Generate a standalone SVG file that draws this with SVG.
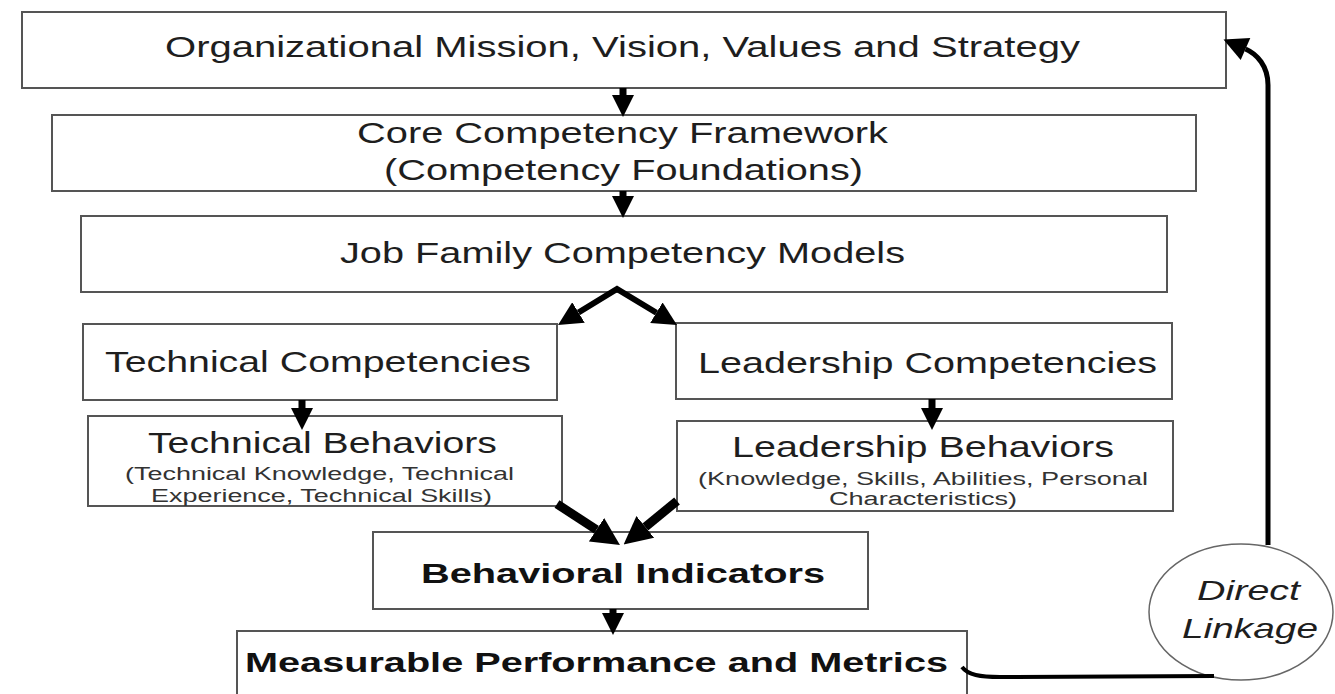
<svg xmlns="http://www.w3.org/2000/svg" width="1335" height="694" viewBox="0 0 1335 694">
<style>
.box{fill:#fff;stroke:#555;stroke-width:2}
.t{font-family:"Liberation Sans",Arial,sans-serif;font-size:30px;fill:#1e1e1e}
.s{font-family:"Liberation Sans",Arial,sans-serif;font-size:18px;fill:#333}
.b{font-family:"Liberation Sans",Arial,sans-serif;font-size:28px;font-weight:bold;fill:#111}
.i{font-family:"Liberation Sans",Arial,sans-serif;font-size:28px;font-style:italic;fill:#1e1e1e}
.c{fill:none;stroke:#000;stroke-linecap:butt;stroke-linejoin:miter}
</style>
<defs>
<marker id="av" viewBox="0 0 10 10" refX="0" refY="5" markerUnits="userSpaceOnUse" markerWidth="22" markerHeight="26" orient="auto-start-reverse"><path d="M0,0 L10,5 L0,10 z" fill="#000"/></marker>
<marker id="ad" viewBox="0 0 10 10" refX="0" refY="5" markerUnits="userSpaceOnUse" markerWidth="24" markerHeight="24" orient="auto-start-reverse"><path d="M0,0 L10,5 L0,10 z" fill="#000"/></marker>
<marker id="ab" viewBox="0 0 10 10" refX="0" refY="5" markerUnits="userSpaceOnUse" markerWidth="28" markerHeight="30" orient="auto-start-reverse"><path d="M0,0 L10,5 L0,10 z" fill="#000"/></marker>
<marker id="af" viewBox="0 0 10 10" refX="0" refY="5" markerUnits="userSpaceOnUse" markerWidth="26" markerHeight="24" orient="auto"><path d="M0,0 L10,5 L0,10 z" fill="#000"/></marker>
</defs>
<rect width="1335" height="694" fill="#fff"/>

<g id="n-mission">
<rect class="box" x="22" y="12" width="1204" height="76"/>
<text class="t" x="165" y="57" textLength="915" lengthAdjust="spacingAndGlyphs">Organizational Mission, Vision, Values and Strategy</text>
</g>
<g id="n-core">
<rect class="box" x="52" y="115" width="1144" height="76"/>
<text class="t" x="357" y="143" textLength="531" lengthAdjust="spacingAndGlyphs">Core Competency Framework</text>
<text class="t" x="384" y="180" textLength="479" lengthAdjust="spacingAndGlyphs">(Competency Foundations)</text>
</g>
<g id="n-jobfamily">
<rect class="box" x="81" y="216" width="1086" height="76"/>
<text class="t" x="340" y="263" textLength="565" lengthAdjust="spacingAndGlyphs">Job Family Competency Models</text>
</g>
<g id="n-techcomp">
<rect class="box" x="83" y="324" width="474" height="76"/>
<text class="t" x="105" y="372" textLength="426" lengthAdjust="spacingAndGlyphs">Technical Competencies</text>
</g>
<g id="n-techbeh">
<rect class="box" x="88" y="416" width="474" height="90"/>
<text class="t" x="148" y="453" textLength="349" lengthAdjust="spacingAndGlyphs">Technical Behaviors</text>
<text class="s" x="125" y="480" textLength="389" lengthAdjust="spacingAndGlyphs">(Technical Knowledge, Technical</text>
<text class="s" x="151" y="502" textLength="341" lengthAdjust="spacingAndGlyphs">Experience, Technical Skills)</text>
</g>
<g id="n-leadcomp">
<rect class="box" x="676" y="323" width="496" height="76"/>
<text class="t" x="698" y="373" textLength="459" lengthAdjust="spacingAndGlyphs">Leadership Competencies</text>
</g>
<g id="n-leadbeh">
<rect class="box" x="677" y="421" width="496" height="90"/>
<text class="t" x="732" y="457" textLength="382" lengthAdjust="spacingAndGlyphs">Leadership Behaviors</text>
<text class="s" x="698" y="485" textLength="450" lengthAdjust="spacingAndGlyphs">(Knowledge, Skills, Abilities, Personal</text>
<text class="s" x="829" y="505" textLength="188" lengthAdjust="spacingAndGlyphs">Characteristics)</text>
</g>
<g id="n-indicators">
<rect class="box" x="373" y="532" width="495" height="77"/>
<text class="b" x="421" y="583" textLength="404" lengthAdjust="spacingAndGlyphs">Behavioral Indicators</text>
</g>
<g id="n-metrics">
<rect class="box" x="237" y="631" width="730" height="75"/>
<text class="b" x="245" y="672" textLength="703" lengthAdjust="spacingAndGlyphs">Measurable Performance and Metrics</text>
</g>
<g id="n-linkage">
<ellipse cx="1241" cy="612" rx="92" ry="68" fill="#fff" stroke="#666" stroke-width="1.5"/>
<text class="i" x="1197" y="600" textLength="103" lengthAdjust="spacingAndGlyphs">Direct</text>
<text class="i" x="1182" y="638" textLength="136" lengthAdjust="spacingAndGlyphs">Linkage</text>
</g>

<g id="connectors">
<path class="c" d="M623,88 L623,95" stroke-width="7" marker-end="url(#av)"/>
<path class="c" d="M623,191 L623,196" stroke-width="7" marker-end="url(#av)"/>
<path class="c" d="M578.5,312.5 L617,289 L656.4,312.7" stroke-width="6" marker-start="url(#ad)" marker-end="url(#ad)"/>
<path class="c" d="M302,400 L302,408" stroke-width="7" marker-end="url(#av)"/>
<path class="c" d="M932,399 L932,408" stroke-width="7" marker-end="url(#av)"/>
<path class="c" d="M557,504 L596.5,529.8" stroke-width="9" marker-end="url(#ab)"/>
<path class="c" d="M677,501 L645.3,526.9" stroke-width="9" marker-end="url(#ab)"/>
<path class="c" d="M613,609 L613,613" stroke-width="7" marker-end="url(#av)"/>
<path class="c" d="M962,667 C968,675 980,677 1000,677 L1214,676" stroke-width="4"/>
<path class="c" d="M1268,545 L1268,85 C1268,66 1257,54 1245.5,49" stroke-width="5" marker-end="url(#af)"/>
</g>
</svg>
